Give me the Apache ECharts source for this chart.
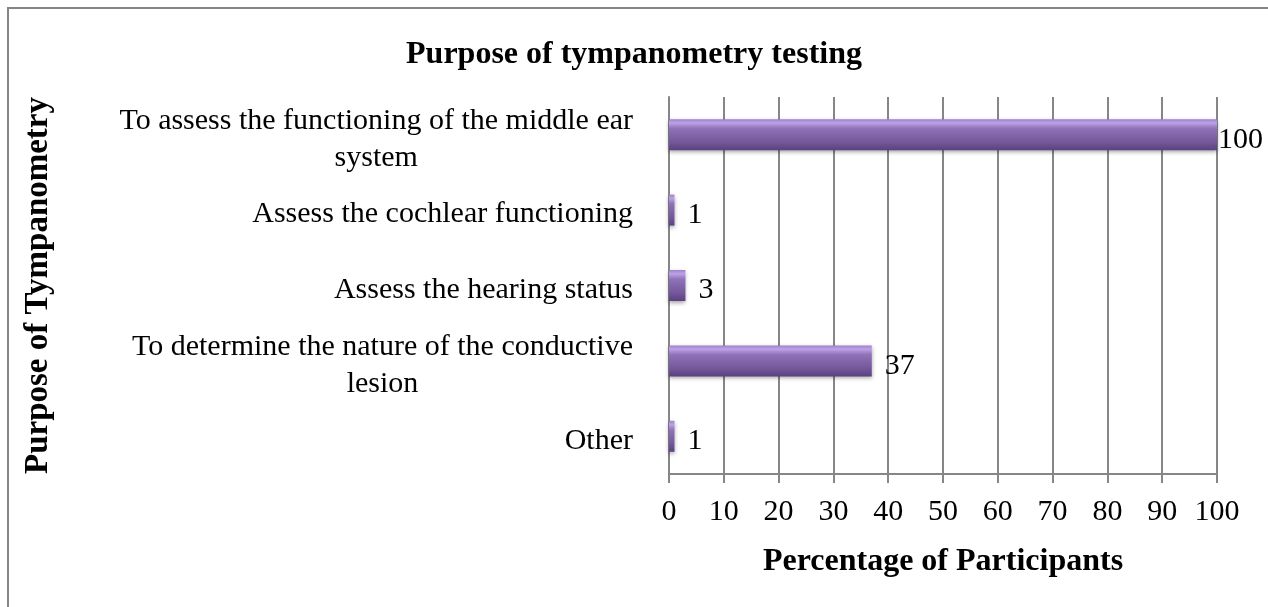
<!DOCTYPE html>
<html>
<head>
<meta charset="utf-8">
<title>Purpose of tympanometry testing</title>
<script src="https://cdn.jsdelivr.net/npm/echarts@6/dist/echarts.min.js"></script>
<style>
    html, body {
        margin: 0;
        padding: 0;
        background: #fff;
        overflow: hidden;
    }
    /* frame like the Word chart border (right/bottom edges are off-screen) */
    #frame {
        position: absolute;
        left: 7px;
        top: 7px;
        width: 1300px;
        height: 700px;
        border: 2px solid #858585;
    }
    #chart {
        position: absolute;
        left: 0;
        top: 0;
        width: 1268px;
        height: 607px;
    }
</style>
</head>
<body>
<div id="frame"></div>
<div id="chart"></div>
<script>
// categories, top to bottom
const categories = [
    'To assess the functioning of the middle ear\nsystem',
    'Assess the cochlear functioning',
    'Assess the hearing status',
    'To determine the nature of the conductive\nlesion',
    'Other'
]
// percentage of participants
const percentages = [100, 1, 3, 37, 1]
const xTicks = [0, 10, 20, 30, 40, 50, 60, 70, 80, 90, 100]

const serif = '"Liberation Serif", "Times New Roman", serif'

let myChart = echarts.init(document.getElementById('chart'))

// bar fill, bevelled purple look
let barColor = new echarts.graphic.LinearGradient(0, 0, 0, 1, [
    { offset: 0, color: '#9c82c8' },
    { offset: 0.12, color: '#bda2e8' },
    { offset: 0.3, color: '#8f72b8' },
    { offset: 0.75, color: '#735799' },
    { offset: 1, color: '#5a4180' }
])

let option = {
    animation: false,
    title: {
        text: 'Purpose of tympanometry testing',
        left: 'center',
        top: 34,
        textStyle: {
            fontFamily: serif,
            fontWeight: 'bold',
            fontSize: 32,
            color: '#000'
        }
    },
    grid: {
        left: 669,
        right: 51,
        top: 97,
        bottom: 133,
        containLabel: false
    },
    xAxis: {
        type: 'value',
        min: xTicks[0],
        max: xTicks[xTicks.length - 1],
        interval: 10,
        name: 'Percentage of Participants',
        nameLocation: 'middle',
        nameGap: 72,
        nameTextStyle: {
            fontFamily: serif,
            fontWeight: 'bold',
            fontSize: 32,
            color: '#000'
        },
        axisLine: { show: true, lineStyle: { color: '#868686', width: 2 } },
        axisTick: { show: true, length: 9, lineStyle: { color: '#868686', width: 2 } },
        axisLabel: {
            margin: 23,
            fontFamily: serif,
            fontSize: 30,
            color: '#000'
        },
        splitLine: { show: true, lineStyle: { color: '#868686', width: 2 } }
    },
    yAxis: {
        type: 'category',
        inverse: true,
        data: categories,
        name: 'Purpose of Tympanometry',
        nameLocation: 'middle',
        nameRotate: 90,
        nameGap: 614,
        nameTextStyle: {
            fontFamily: serif,
            fontWeight: 'bold',
            fontSize: 33,
            color: '#000'
        },
        axisLine: { show: true, lineStyle: { color: '#868686', width: 2 } },
        axisTick: { show: false },
        axisLabel: {
            margin: 36,
            fontFamily: serif,
            fontSize: 30,
            lineHeight: 37,
            color: '#000',
            formatter: function (value) {
                return '{c|' + value + '}'
            },
            rich: {
                c: {
                    align: 'center',
                    fontFamily: serif,
                    fontSize: 30,
                    lineHeight: 37,
                    padding: [9, 0, 0, 0],
                    color: '#000'
                }
            }
        }
    },
    series: [
        {
            name: 'Percentage of Participants',
            type: 'bar',
            barWidth: 31,
            data: percentages.map(v => ({
                value: v,
                // Excel pulls the full-width label against the bar end
                label: v >= 100 ? { distance: 1 } : undefined
            })),
            itemStyle: {
                color: barColor,
                shadowColor: 'rgba(0,0,0,0.35)',
                shadowBlur: 4,
                shadowOffsetY: 2
            },
            label: {
                show: true,
                position: 'right',
                distance: 13,
                offset: [0, 5],
                fontFamily: serif,
                fontSize: 30,
                color: '#000'
            }
        }
    ]
}

myChart.setOption(option)
</script>
</body>
</html>
